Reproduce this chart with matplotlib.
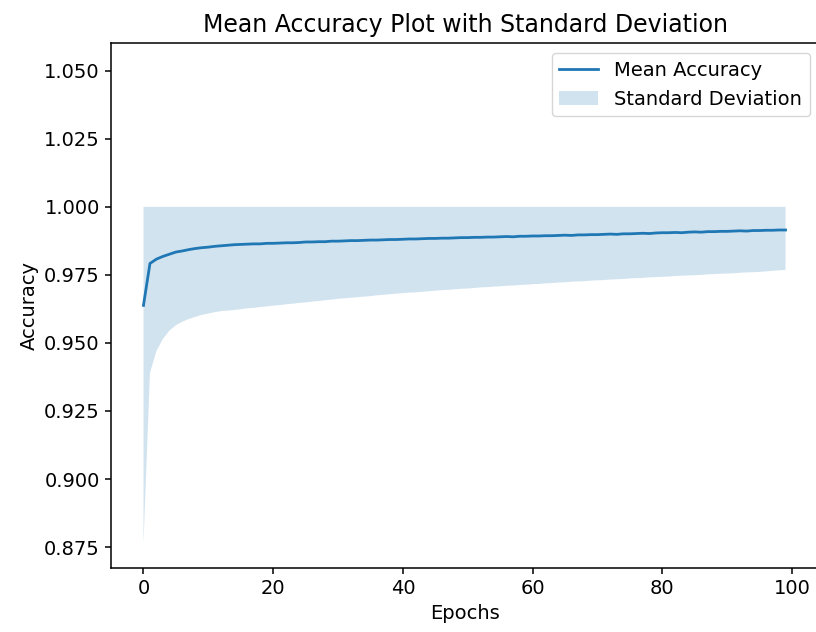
import numpy as np
import matplotlib
matplotlib.use("Agg")
import matplotlib.pyplot as plt

# mean accuracy per epoch (0..99)
mean_acc = [
    0.9638, 0.9792, 0.9808, 0.9818, 0.9826, 0.9834, 0.9838, 0.9843, 0.9847, 0.9850,
    0.9852, 0.9855, 0.9857, 0.9859, 0.9861, 0.9862, 0.9863, 0.9864, 0.9864, 0.9866,
    0.9866, 0.9867, 0.9868, 0.9868, 0.9869, 0.9871, 0.9871, 0.9872, 0.9872, 0.9874,
    0.9874, 0.9875, 0.9876, 0.9876, 0.9877, 0.9878, 0.9878, 0.9879, 0.9880, 0.9880,
    0.9881, 0.9882, 0.9882, 0.9883, 0.9884, 0.9884, 0.9885, 0.9885, 0.9886, 0.9887,
    0.9887, 0.9888, 0.9888, 0.9889, 0.9889, 0.9890, 0.9891, 0.9890, 0.9892, 0.9892,
    0.9893, 0.9893, 0.9894, 0.9894, 0.9895, 0.9896, 0.9895, 0.9897, 0.9897, 0.9898,
    0.9898, 0.9899, 0.9900, 0.9899, 0.9901, 0.9901, 0.9902, 0.9903, 0.9902, 0.9904,
    0.9905, 0.9905, 0.9906, 0.9905, 0.9907, 0.9908, 0.9907, 0.9909, 0.9909, 0.9910,
    0.9910, 0.9911, 0.9912, 0.9911, 0.9913, 0.9913, 0.9914, 0.9914, 0.9915, 0.9915,
]

# standard deviation per epoch
std_acc = [
    0.0878, 0.0402, 0.0338, 0.0303, 0.0281, 0.0269, 0.0260, 0.0255, 0.0251, 0.0247,
    0.0244, 0.0242, 0.0240, 0.0240, 0.0240, 0.0238, 0.0236, 0.0235, 0.0232, 0.0232,
    0.0229, 0.0228, 0.0226, 0.0224, 0.0222, 0.0222, 0.0219, 0.0218, 0.0215, 0.0215,
    0.0212, 0.0211, 0.0210, 0.0208, 0.0207, 0.0206, 0.0203, 0.0202, 0.0201, 0.0199,
    0.0198, 0.0197, 0.0196, 0.0195, 0.0194, 0.0192, 0.0191, 0.0190, 0.0189, 0.0188,
    0.0187, 0.0186, 0.0184, 0.0184, 0.0182, 0.0182, 0.0181, 0.0179, 0.0179, 0.0178,
    0.0177, 0.0176, 0.0175, 0.0174, 0.0173, 0.0173, 0.0170, 0.0171, 0.0170, 0.0169,
    0.0168, 0.0168, 0.0167, 0.0165, 0.0166, 0.0164, 0.0164, 0.0164, 0.0161, 0.0162,
    0.0162, 0.0161, 0.0160, 0.0158, 0.0159, 0.0159, 0.0157, 0.0157, 0.0156, 0.0156,
    0.0155, 0.0155, 0.0154, 0.0152, 0.0153, 0.0152, 0.0151, 0.0149, 0.0148, 0.0147,
]

epochs = np.arange(len(mean_acc))
mean = np.array(mean_acc)
std = np.array(std_acc)

plt.rcParams["font.size"] = 14

fig = plt.figure(figsize=(8.16, 6.32), dpi=100)
ax = fig.add_axes([0.136, 0.1008, 0.868, 0.8307])

ax.plot(epochs, mean, lw=2, label="Mean Accuracy")
# upper band clipped at 1.0 (accuracy cannot exceed 1)
ax.fill_between(epochs, mean - std, np.minimum(mean + std, 1.0), alpha=0.2,
                linewidth=0, label="Standard Deviation")

ax.set_xlim(-5.01, 104.2)
ax.set_ylim(0.8672, 1.0601)
ax.set_xticks([0, 20, 40, 60, 80, 100])
ax.set_yticks([0.875, 0.9, 0.925, 0.95, 0.975, 1.0, 1.025, 1.05])
ax.set_yticklabels(["0.875", "0.900", "0.925", "0.950", "0.975", "1.000", "1.025", "1.050"])
ax.tick_params(length=4.5, width=1.1)
for s in ax.spines.values():
    s.set_linewidth(1.1)
# the reference image is cut off right at the edge of the axes
ax.spines["right"].set_visible(False)

ax.set_xlabel("Epochs")
ax.set_ylabel("Accuracy")
ax.set_title("Mean Accuracy Plot with Standard Deviation", fontsize=17, pad=8)
ax.legend(loc="upper right", fontsize=14)

fig.savefig("out.png", dpi=100)
